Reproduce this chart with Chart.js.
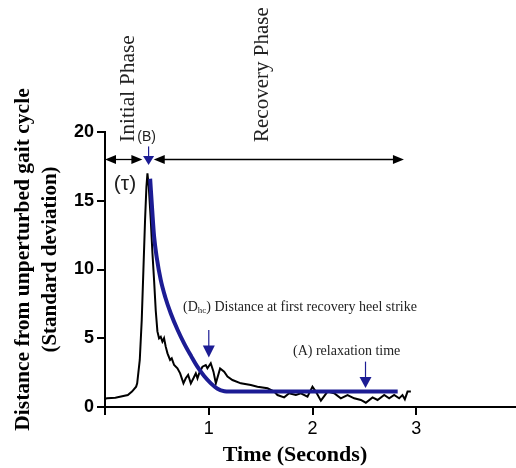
<!DOCTYPE html>
<html>
<head>
<meta charset="utf-8">
<script src="https://cdn.jsdelivr.net/npm/chart.js@4"></script>
<style>
  html, body { margin: 0; padding: 0; background: #fff; }
  #wrap { width: 516px; height: 468px; }
</style>
</head>
<body>
<div id="wrap"><canvas id="chart" width="516" height="468"></canvas></div>
<script>
// measured distance (black trace)
const rawTime = [0.00, 0.02, 0.10, 0.22, 0.26, 0.30, 0.31, 0.335, 0.354, 0.37, 0.386, 0.399, 0.409,
  0.422, 0.441, 0.457, 0.473, 0.489, 0.505, 0.521, 0.537, 0.553, 0.569, 0.585, 0.602, 0.627, 0.643,
  0.666, 0.698, 0.724, 0.756, 0.778, 0.801, 0.827, 0.852, 0.875, 0.891, 0.907, 0.939, 0.971, 0.987,
  1.019, 1.045, 1.068, 1.109, 1.148, 1.180, 1.228, 1.309, 1.405, 1.469, 1.566, 1.630, 1.662, 1.726,
  1.774, 1.839, 1.887, 1.951, 1.999, 2.031, 2.080, 2.144, 2.208, 2.272, 2.337, 2.401, 2.465, 2.513,
  2.578, 2.626, 2.690, 2.738, 2.786, 2.834, 2.866, 2.889, 2.915, 2.947];
const rawDist = [0.60, 0.63, 0.68, 0.87, 1.12, 1.48, 1.72, 3.42, 6.33, 9.96, 13.6, 16.0, 17.0,
  16.0, 13.6, 11.2, 9.2, 7.0, 5.5, 5.0, 5.11, 4.75, 5.0, 4.39, 3.9, 3.42, 3.54,
  3.05, 2.81, 2.45, 1.72, 2.09, 2.33, 1.72, 2.09, 2.45, 2.09, 2.45, 2.93, 3.05, 2.81,
  3.18, 2.57, 1.72, 2.81, 2.57, 2.21, 1.96, 1.72, 1.6, 1.48, 1.36, 1.12, 0.87, 0.70,
  1.0, 0.87, 1.0, 0.75, 1.48, 1.12, 0.46, 1.12, 1.0, 0.63, 0.87, 0.63, 0.51, 0.31,
  0.70, 0.51, 0.87, 0.63, 0.87, 0.63, 0.87, 0.56, 1.12, 1.12];

// exponential fit (blue curve)
const fitTime = [0.435, 0.455, 0.473, 0.50, 0.537, 0.58, 0.634, 0.70, 0.762, 0.83, 0.89, 0.955,
  1.02, 1.08, 1.15, 1.20, 2.82];
const fitDist = [16.6, 14.3, 12.4, 10.8, 9.24, 8.0, 6.8, 5.6, 4.63, 3.7, 2.93, 2.25,
  1.72, 1.35, 1.14, 1.12, 1.12];

const xTickValues = [0, 1, 2, 3];
const yTickValues = [0, 5, 10, 15, 20];

const BLUE = "#1c1c94";
const SERIF = "'Times New Roman', 'Liberation Serif', serif";
const SANS = "Arial, 'Liberation Sans', sans-serif";

// annotation anchors, in data units
const phaseY = 18;
const initialSpan = [0, 0.36];
const recoverySpan = [0.47, 2.88];
const markB = { x: 0.42, top: 18.95, tip: 17.6 };
const markD = { x: 1.0, top: 5.6, tip: 3.6 };
const markA = { x: 2.51, top: 3.3, tip: 1.38 };

function head(ctx, x, y, dx, dy, len, half) {
  // tip at (x,y), pointing along (dx,dy)
  const bx = x - dx * len, by = y - dy * len;
  ctx.beginPath();
  ctx.moveTo(x, y);
  ctx.lineTo(bx - dy * half, by + dx * half);
  ctx.lineTo(bx + dy * half, by - dx * half);
  ctx.closePath();
  ctx.fill();
}

function downArrow(ctx, xs, ys, m, hl, hw) {
  const x = xs.getPixelForValue(m.x);
  const y0 = ys.getPixelForValue(m.top);
  const y1 = ys.getPixelForValue(m.tip);
  ctx.strokeStyle = BLUE; ctx.fillStyle = BLUE; ctx.lineWidth = 1.2;
  ctx.beginPath(); ctx.moveTo(x, y0); ctx.lineTo(x, y1 - hl + 1); ctx.stroke();
  head(ctx, x, y1, 0, 1, hl, hw);
}

function doubleArrow(ctx, xs, y, span) {
  const a = xs.getPixelForValue(span[0]);
  const b = xs.getPixelForValue(span[1]);
  ctx.strokeStyle = "#000"; ctx.fillStyle = "#000"; ctx.lineWidth = 1.3;
  ctx.beginPath(); ctx.moveTo(a + 4, y); ctx.lineTo(b - 4, y); ctx.stroke();
  head(ctx, a, y, -1, 0, 11, 4.5);
  head(ctx, b, y, 1, 0, 11, 4.5);
}

function vText(ctx, text, x, y, font) {
  ctx.save();
  ctx.translate(x, y);
  ctx.rotate(-Math.PI / 2);
  ctx.font = font;
  ctx.fillText(text, 0, 0);
  ctx.restore();
}

const notesPlugin = {
  id: "notes",
  afterDatasetsDraw(chart) {
    const ctx = chart.ctx;
    const xs = chart.scales.x, ys = chart.scales.y;
    const area = chart.chartArea;
    const py = ys.getPixelForValue(phaseY);
    ctx.save();

    doubleArrow(ctx, xs, py, initialSpan);
    doubleArrow(ctx, xs, py, recoverySpan);

    downArrow(ctx, xs, ys, markB, 9, 5.5);
    downArrow(ctx, xs, ys, markD, 12, 6);
    downArrow(ctx, xs, ys, markA, 11, 6);

    ctx.fillStyle = "#222";
    ctx.textBaseline = "alphabetic";
    ctx.textAlign = "left";
    vText(ctx, "Initial Phase", 133.5, 142, "21.5px " + SERIF);
    vText(ctx, "Recovery Phase", 267.5, 142, "21px " + SERIF);

    ctx.textAlign = "center";
    ctx.textBaseline = "middle";
    ctx.font = "14px " + SANS;
    ctx.fillText("(B)", xs.getPixelForValue(markB.x) - 2, ys.getPixelForValue(markB.top) - 9);
    ctx.font = "21px " + SANS;
    ctx.fillText("(\u03c4)", 125, 184);

    // (Dhc) label with subscript
    ctx.textAlign = "left";
    ctx.textBaseline = "alphabetic";
    let tx = 183, base = 311;
    ctx.font = "14px " + SERIF;
    ctx.fillText("(D", tx, base); tx += ctx.measureText("(D").width;
    ctx.font = "9px " + SERIF;
    ctx.fillText("hc", tx, base + 2); tx += ctx.measureText("hc").width;
    ctx.font = "14px " + SERIF;
    ctx.fillText(") Distance at first recovery heel strike", tx, base);

    ctx.fillText("(A) relaxation time", 293, 355);

    // axis titles
    ctx.fillStyle = "#000";
    ctx.textAlign = "center";
    ctx.font = "bold 22px " + SERIF;
    ctx.fillText("Time (Seconds)", 295, 461);
    const midY = (area.top + area.bottom) / 2 - 10;
    vText(ctx, "Distance from unperturbed gait cycle", 29, midY, "bold 21.5px " + SERIF);
    vText(ctx, "(Standard deviation)", 56, midY, "bold 21px " + SERIF);

    ctx.restore();
  }
};

const pts = (xs, ys) => xs.map((x, i) => ({ x, y: ys[i] }));

new Chart(document.getElementById("chart"), {
  type: "line",
  data: {
    datasets: [
      { label: "Fit", data: pts(fitTime, fitDist), borderColor: BLUE, borderWidth: 4,
        pointRadius: 0, cubicInterpolationMode: "monotone", fill: false },
      { label: "Distance", data: pts(rawTime, rawDist), borderColor: "#000", borderWidth: 2,
        pointRadius: 0, tension: 0, fill: false }
    ]
  },
  options: {
    responsive: false,
    animation: false,
    devicePixelRatio: 1,
    layout: { padding: { top: 132, left: 0, right: 0, bottom: 0 } },
    plugins: { legend: { display: false }, tooltip: { enabled: false } },
    scales: {
      x: {
        type: "linear", min: 0, max: 3.96,
        afterBuildTicks: s => { s.ticks = xTickValues.map(v => ({ value: v })); },
        afterFit: s => { s.height = 61; },
        border: { color: "#000", width: 2 },
        grid: { drawOnChartArea: false, color: "#000", lineWidth: 2, tickLength: 8 },
        ticks: { color: "#000", padding: 3, font: { family: SANS, size: 18 },
          callback: v => v === 0 ? "" : String(v) }
      },
      y: {
        type: "linear", min: 0, max: 20,
        afterBuildTicks: s => { s.ticks = yTickValues.map(v => ({ value: v })); },
        afterFit: s => { s.width = 105; },
        border: { color: "#000", width: 2 },
        grid: { drawOnChartArea: false, color: "#000", lineWidth: 2, tickLength: 8 },
        ticks: { color: "#000", padding: 3, font: { family: SANS, size: 18, weight: "bold" } }
      }
    }
  },
  plugins: [notesPlugin]
});
</script>
</body>
</html>
